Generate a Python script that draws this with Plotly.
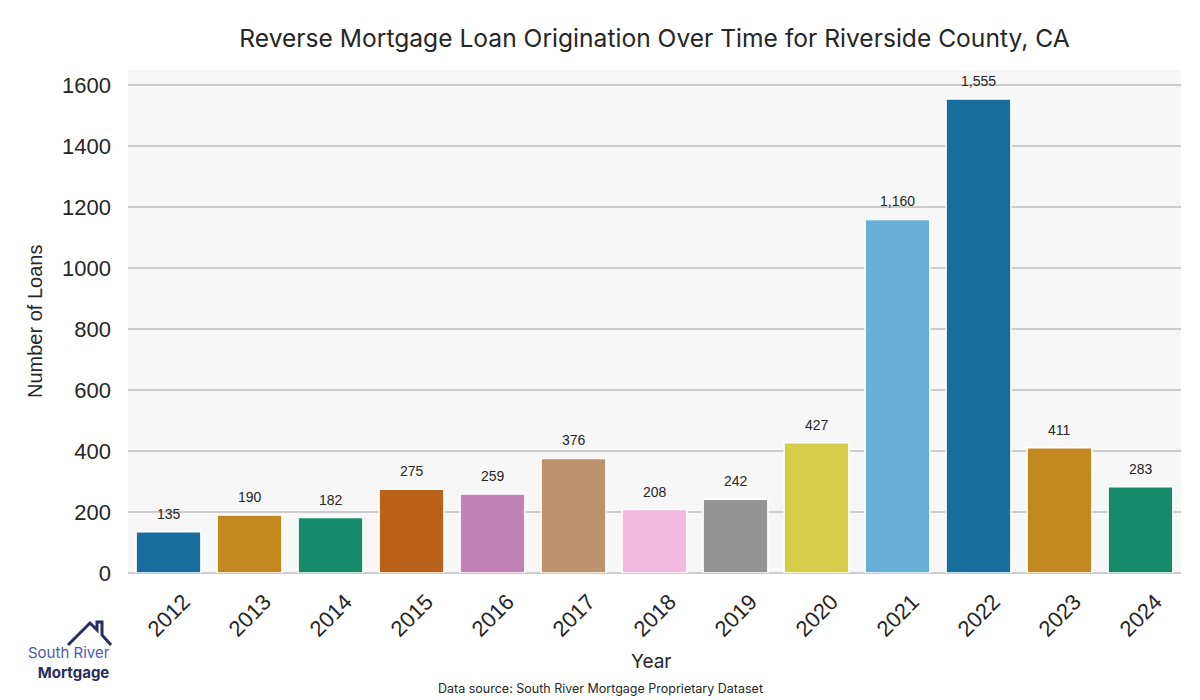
import plotly.graph_objects as go

years = ["2012", "2013", "2014", "2015", "2016", "2017", "2018", "2019", "2020", "2021", "2022", "2023", "2024"]
loans = [135, 190, 182, 275, 259, 376, 208, 242, 427, 1160, 1555, 411, 283]
y_ticks = [0, 200, 400, 600, 800, 1000, 1200, 1400, 1600]

palette = ["#176D9C", "#C38820", "#168B6A", "#BA611B", "#C183B5", "#BD926E",
           "#F1B8E0", "#949494", "#D5CD4A", "#68AFD7"]
colors = [palette[i % len(palette)] for i in range(len(years))]

TXT = "#262626"
ARIAL = "Liberation Sans, Arial, sans-serif"
SANS = "Inter, Lato, sans-serif"

fig = go.Figure()
fig.add_trace(go.Bar(
    x=years, y=loans,
    marker=dict(color=colors, line=dict(color="white", width=1.5)),
    width=0.8, showlegend=False, hoverinfo="x+y",
))

# value labels (x given as category index on the category axis)
for i, v in enumerate(loans):
    fig.add_annotation(x=i, y=v, text=f"{v:,}", showarrow=False,
                       yanchor="bottom", yshift=8,
                       font=dict(family=ARIAL, size=14, color=TXT))

# rotated category tick labels, centred under each bar
for i, yr in enumerate(years):
    fig.add_annotation(x=i, y=0, text=yr, showarrow=False, textangle=-45,
                       xanchor="center", yanchor="middle", yshift=-42,
                       font=dict(family=ARIAL, size=22, color=TXT))

# Page is offset by the 8px default body margin, so compensate
OFF = 8
W, H = 1200 - OFF, 700 - OFF
L, R, T, B = 128 - OFF, 27 - OFF, 70 - OFF, 127
pw, ph = W - L - R, H - T - B

def px(x):
    return (x - OFF - L) / pw

def py(y):
    return (H - B - (y - OFF)) / ph

fig.update_layout(
    width=W, height=H,
    margin=dict(l=L, r=R, t=T, b=B, autoexpand=False),
    paper_bgcolor="white",
    plot_bgcolor="#f7f7f7",
    title=dict(text="Reverse Mortgage Loan Origination Over Time for Riverside County, CA",
               x=0.5, xref="paper", y=1 - (38 - OFF) / H, yref="container", yanchor="middle",
               font=dict(family=SANS, size=24.6, color=TXT)),
    bargap=0.2,
)
fig.update_xaxes(
    type="category", automargin=False, showticklabels=False,
    showgrid=False, showline=False, ticks="",
)
fig.update_yaxes(
    automargin=False,
    range=[0, 1650], tickvals=y_ticks, ticktext=[str(t) for t in y_ticks],
    tickfont=dict(family=ARIAL, size=22, color=TXT), ticklabelstandoff=16,
    showgrid=True, gridcolor="#cccccc", gridwidth=1.5, zeroline=True, zerolinecolor="#cccccc", zerolinewidth=1.5,
    showline=False, ticks="",
)

# axis titles
fig.add_annotation(xref="paper", yref="paper", x=px(35), y=py(322), text="Number of Loans",
                   showarrow=False, textangle=-90, xanchor="center", yanchor="middle",
                   font=dict(family=ARIAL, size=20, color=TXT))
fig.add_annotation(xref="paper", yref="paper", x=px(651), y=py(661), text="Year",
                   showarrow=False, xanchor="center", yanchor="middle",
                   font=dict(family=SANS, size=19, color=TXT))

fig.add_annotation(xref="paper", yref="paper", x=px(600), y=py(688),
                   text="Data source: South River Mortgage Proprietary Dataset",
                   showarrow=False, xanchor="center", yanchor="middle",
                   font=dict(family=SANS, size=12.5, color=TXT))

# Logo
navy = "#272D62"
fig.add_shape(type="path", xref="paper", yref="paper",
              path=f"M {px(68)} {py(645)} L {px(90)} {py(623)} L {px(97)} {py(630)} L {px(97)} {py(622)} "
                   f"L {px(102)} {py(622)} L {px(102)} {py(635)} L {px(111)} {py(645)}",
              line=dict(color=navy, width=3), fillcolor="rgba(0,0,0,0)")
fig.add_annotation(xref="paper", yref="paper", x=px(112), y=py(662.5),
                   text="<span style='color:#4A5AAE'>South River</span><br><b>Mortgage</b>",
                   showarrow=False, xanchor="right", yanchor="middle", align="right",
                   font=dict(family=SANS, size=15, color=navy))

fig.write_html("out.html")
